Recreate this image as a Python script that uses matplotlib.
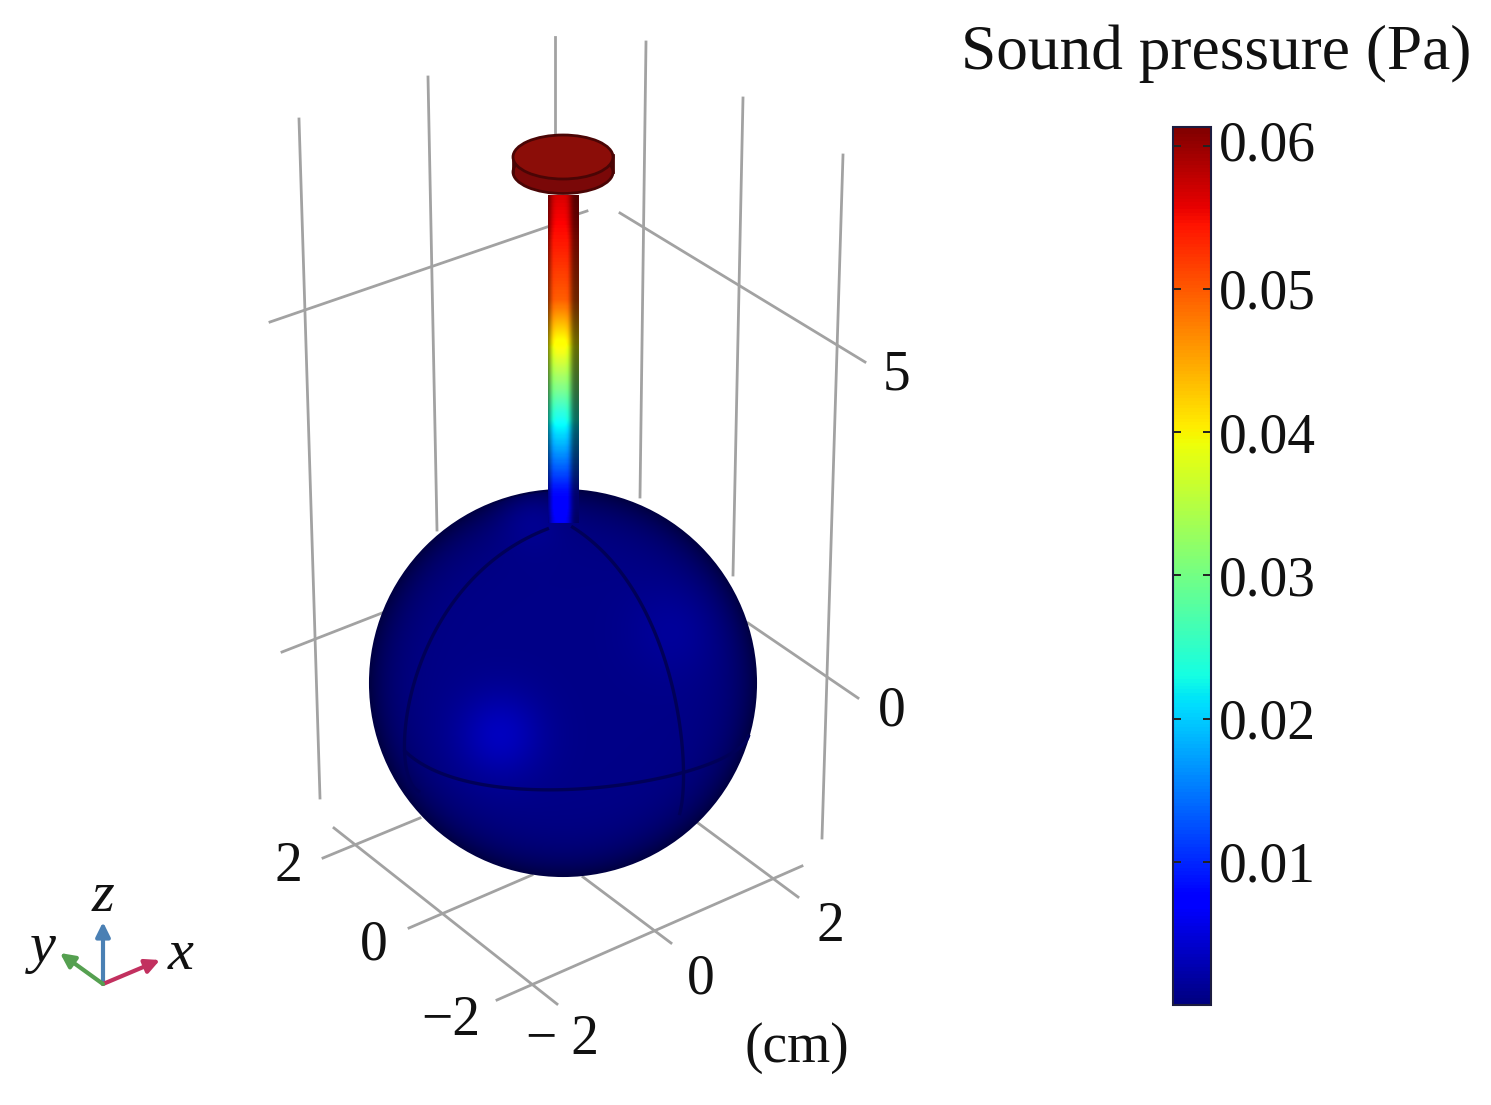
import numpy as np
import matplotlib
matplotlib.use('Agg')
import matplotlib.pyplot as plt
from matplotlib.patches import Circle, Ellipse, Rectangle
from matplotlib.transforms import ScaledTranslation

plt.rcParams['font.family'] = ['Liberation Serif', 'DejaVu Serif']

W, H = 1491, 1105

# grid lines, pixel coords (x0, y0, x1, y1)
grid_vertical = [(299,119,320,798), (428,77,437,530), (555,37,555,135),
                 (646,42,640,497), (743,98,733,575), (843,155,822,838)]
grid_upper = [(270,322,547,227), (578,214,587,211), (620,213,865,362)]
grid_middle = [(282,652,382,613), (748,623,858,698)]
grid_floor = [(323,858,420,818), (409,928,532,875), (497,1000,802,866),
              (334,828,557,1004), (583,877,671,943), (698,823,798,897)]

# sphere
sphere_center = (563, 683)
sphere_radius = 193
glow_x = [500, 675, 530]
glow_y = [735, 630, 510]
glow_amp = [0.22, 0.08, 0.12]
glow_size = [30, 32, 24]

# seam lines on the sphere
seam_left_x = [547, 477, 430, 407, 407, 418]
seam_left_y = [530, 573, 640, 713, 757, 793]
seam_right_x = [573, 623, 660, 677, 683, 680]
seam_right_y = [527, 577, 643, 707, 773, 813]
seam_lat_x = [407, 460, 560, 643, 710, 750]
seam_lat_y = [752, 778, 793, 782, 760, 737]

# tube: pressure
tube_y = [195, 240, 300, 343, 390, 433, 490, 523]
tube_p = [0.0575, 0.0545, 0.0500, 0.0400, 0.0300, 0.0200, 0.0085, 0.0055]
tube_left, tube_right = 548, 579

# colour bar
p_min, p_max = 0.0, 0.0613
bar_ticks = [0.01, 0.02, 0.03, 0.04, 0.05, 0.06]
bar_labels = ['0.01', '0.02', '0.03', '0.04', '0.05', '0.06']

# axis labels (text, x, y)
axis_labels = [('2', 288, 867), ('0', 374, 945), ('\u22122', 451, 1021),
               ('\u2212 2', 563, 1040), ('0', 701, 980), ('2', 830, 927),
               ('(cm)', 797, 1048), ('5', 897, 376), ('0', 892, 712)]

fig = plt.figure(figsize=(W/100, H/100), dpi=100, facecolor='white')
ax = fig.add_axes([0, 0, 1, 1])
ax.set_xlim(0, W)
ax.set_ylim(H, 0)
ax.axis('off')

for seg in grid_vertical + grid_upper + grid_middle + grid_floor:
    ax.plot([seg[0], seg[2]], [seg[1], seg[3]], color='#a2a2a2', lw=2, zorder=1)

# sphere shading
cx, cy = sphere_center
R = sphere_radius
xs = np.arange(cx-R-2, cx+R+3)
ys = np.arange(cy-R-2, cy+R+3)
X, Y = np.meshgrid(xs, ys)
rr = np.clip(np.hypot(X-cx, Y-cy)/R, 0, 1)
blue = 0.53 - 0.26*rr**8
for gx, gy, ga, gs in zip(glow_x, glow_y, glow_amp, glow_size):
    blue = blue + ga*np.exp(-((X-gx)**2 + (Y-gy)**2)/(2*gs**2))
img = np.dstack([np.zeros_like(blue), np.zeros_like(blue), np.clip(blue, 0, 1)])
im = ax.imshow(img, extent=[xs[0], xs[-1], ys[-1], ys[0]], zorder=2, aspect='auto')
im.set_clip_path(Circle(sphere_center, R, transform=ax.transData))
ax.add_patch(Circle(sphere_center, R, fc='none', ec='#000044', lw=1.5, zorder=3))

# seams, smoothed through the points that were read
for sx, sy in [(seam_left_x, seam_left_y), (seam_right_x, seam_right_y), (seam_lat_x, seam_lat_y)]:
    t = np.arange(len(sx))
    tt = np.linspace(0, len(sx)-1, 80)
    ax.plot(np.polyval(np.polyfit(t, sx, 3), tt), np.polyval(np.polyfit(t, sy, 3), tt),
            color='#000058', lw=2.4, zorder=3)

# tube
rows = np.arange(tube_y[0], tube_y[-1]+1)
cols = np.linspace(0, 1, tube_right-tube_left)
vals = np.interp(rows, tube_y, tube_p)
rgb = plt.cm.jet(plt.Normalize(p_min, p_max)(vals))[:, :3]
shade = 0.42 + 0.68*np.exp(-((cols-0.40)/0.36)**4)
tube_img = np.clip(rgb[:, None, :]*shade[None, :, None], 0, 1)
ax.imshow(tube_img, extent=[tube_left, tube_right, tube_y[-1], tube_y[0]], zorder=4, aspect='auto')

# disk on top
ax.add_patch(Rectangle((513, 155), 100, 20, fc='#7a0808', ec='none', zorder=5))
ax.add_patch(Ellipse((563, 172), 100, 43, fc='#7a0808', ec='#4a0505', lw=2, zorder=5))
ax.plot([513, 513], [155, 172], color='#4a0505', lw=2, zorder=5)
ax.plot([613, 613], [155, 172], color='#4a0505', lw=2, zorder=5)
ax.add_patch(Ellipse((563, 157), 100, 44, fc='#8b0d08', ec='#4a0505', lw=2, zorder=6))

ax.set_xlim(0, W)
ax.set_ylim(H, 0)

for txt, x, y in axis_labels:
    ax.text(x, y, txt, fontsize=40, ha='center', va='center', color='#111111')

# orientation triad
arrow = '-|>,head_width=0.42,head_length=0.85'
ax.annotate('', xy=(103, 922), xytext=(103, 984), zorder=7,
            arrowprops=dict(arrowstyle=arrow, color='#4a80b4', lw=3, shrinkA=0, shrinkB=0))
ax.annotate('', xy=(160, 960), xytext=(103, 984), zorder=7,
            arrowprops=dict(arrowstyle=arrow, color='#c2305f', lw=3, shrinkA=0, shrinkB=0))
ax.annotate('', xy=(60, 953), xytext=(103, 984), zorder=7,
            arrowprops=dict(arrowstyle=arrow, color='#55a050', lw=3, shrinkA=0, shrinkB=0))
ax.text(103, 897, 'z', fontsize=42, style='italic', ha='center', va='center', color='#111111')
ax.text(181, 955, 'x', fontsize=42, style='italic', ha='center', va='center', color='#111111')
ax.text(43, 948, 'y', fontsize=42, style='italic', ha='center', va='center', color='#111111')

ax.text(1216, 54, 'Sound pressure (Pa)', fontsize=45.6, ha='center', va='center', color='#111111')

# colour bar
cax = fig.add_axes([1173/W, 1-1005/H, 38/W, 878/H])
sm = plt.cm.ScalarMappable(norm=plt.Normalize(p_min, p_max), cmap='jet')
cb = fig.colorbar(sm, cax=cax, ticks=bar_ticks)
cb.ax.set_yticklabels(bar_labels, fontsize=40, color='#111111')
cb.ax.tick_params(axis='y', direction='in', length=6, width=1.4, left=True, right=True,
                  color='#222222', pad=6)
cb.outline.set_edgecolor('#1c1c40')
cb.outline.set_linewidth(1.5)

# the top label sits a little above its tick in the original
top_label = cb.ax.get_yticklabels()[-1]
top_label.set_transform(top_label.get_transform() + ScaledTranslation(0, 4/72, fig.dpi_scale_trans))

plt.savefig('out.png', dpi=100)
